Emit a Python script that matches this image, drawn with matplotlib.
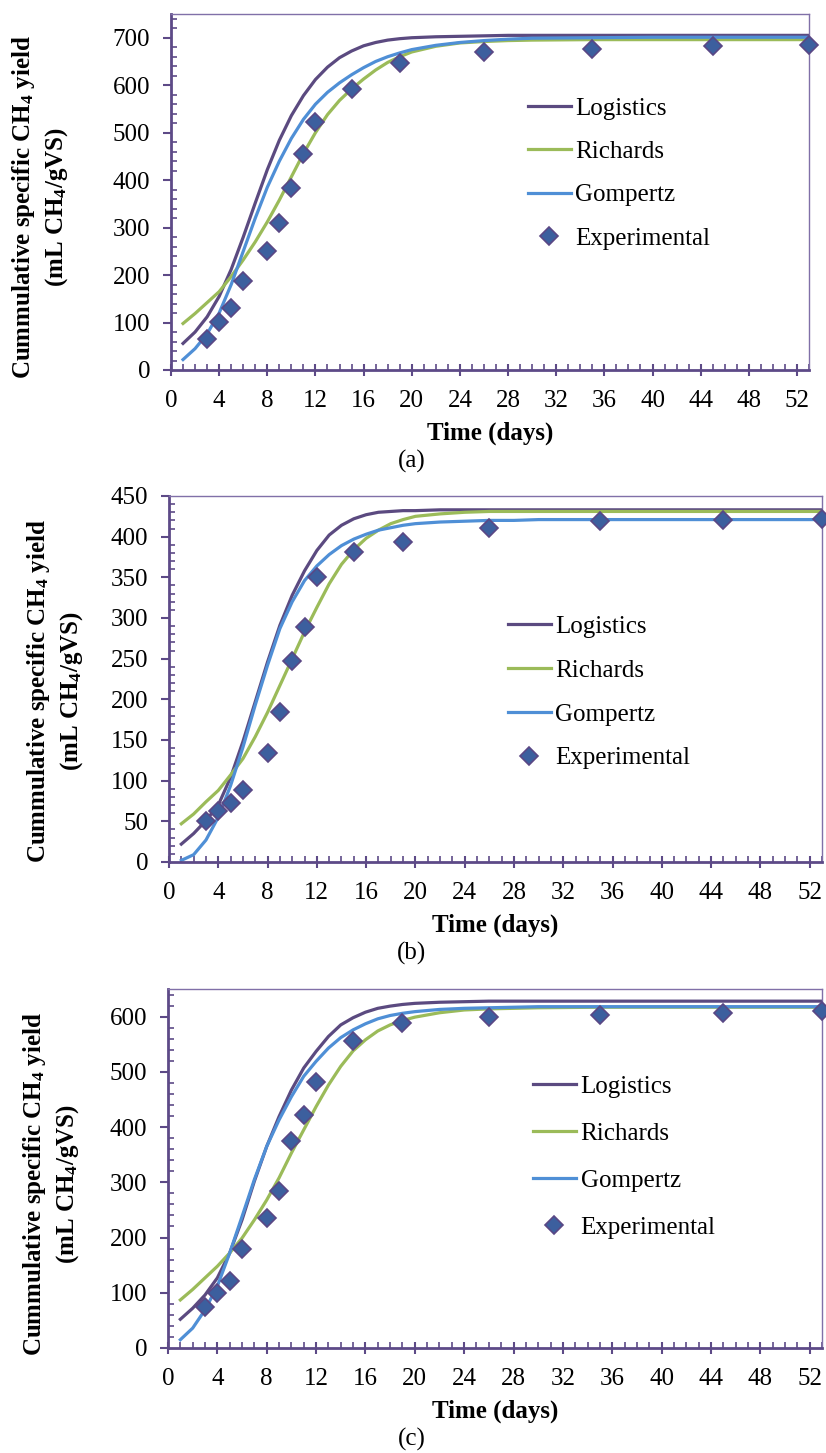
import matplotlib
matplotlib.use("Agg")
import matplotlib.pyplot as plt
from matplotlib.ticker import MultipleLocator

plt.rcParams['font.family'] = ['Liberation Serif', 'DejaVu Serif']
plt.rcParams['mathtext.fontset'] = 'custom'
plt.rcParams['mathtext.rm'] = 'Liberation Serif:bold'
plt.rcParams['mathtext.it'] = 'Liberation Serif:bold:italic'
plt.rcParams['mathtext.bf'] = 'Liberation Serif:bold'

# days at which the fitted curves are read
fit_days = [1, 2, 3, 4, 5, 6, 7, 8, 9, 10, 11, 12, 13, 14, 15, 16, 17, 18, 19, 20,
            22, 24, 26, 28, 30, 35, 40, 45, 53]
exp_days = [3, 4, 5, 6, 8, 9, 10, 11, 12, 15, 19, 26, 35, 45, 53]

# (a)
logis_a = [56, 80, 112, 155, 212, 280, 352, 422, 484, 536, 578, 612, 638, 658, 672, 683, 690, 695, 698, 700,
           702, 703, 704, 705, 705, 705, 705, 705, 705]
rich_a = [98, 119, 142, 165, 197, 232, 270, 312, 358, 407, 456, 500, 538, 568, 592, 613, 632, 648, 660, 670,
          682, 689, 692, 694, 695, 696, 696, 696, 696]
gomp_a = [22, 45, 76, 120, 180, 250, 320, 385, 440, 488, 528, 560, 585, 605, 622, 637, 650, 660, 668, 675,
          684, 690, 694, 697, 699, 700, 701, 701, 701]
exp_a = [65, 102, 131, 188, 251, 310, 383, 456, 523, 591, 646, 670, 677, 682, 684]

# (b)
logis_b = [22, 35, 51, 70, 104, 148, 197, 246, 291, 328, 358, 383, 402, 414, 422, 427, 430, 431, 432, 432,
           433, 433, 433, 433, 433, 433, 433, 433, 433]
rich_b = [47, 59, 74, 88, 107, 127, 154, 184, 217, 250, 283, 313, 342, 366, 384, 398, 408, 416, 421, 425,
          428, 430, 431, 431, 431, 431, 431, 431, 431]
gomp_b = [2, 9, 27, 55, 94, 141, 193, 242, 287, 320, 346, 364, 378, 389, 397, 403, 408, 411, 414, 416,
          418, 419, 420, 420, 421, 421, 421, 421, 421]
exp_b = [51, 63, 72, 89, 134, 184, 247, 289, 350, 381, 394, 411, 419, 421, 422]

# (c)
logis_c = [52, 72, 96, 127, 172, 232, 302, 365, 419, 467, 507, 537, 564, 585, 598, 608, 615, 619, 622, 624,
           626, 627, 628, 628, 628, 628, 628, 628, 628]
rich_c = [87, 106, 127, 148, 172, 199, 232, 268, 308, 353, 395, 437, 476, 510, 538, 558, 574, 585, 593, 599,
          607, 612, 614, 615, 616, 617, 617, 617, 617]
gomp_c = [15, 36, 69, 112, 172, 238, 305, 365, 413, 455, 492, 519, 543, 562, 576, 587, 596, 602, 606, 609,
          613, 615, 616, 617, 618, 618, 618, 618, 618]
exp_c = [74, 100, 121, 179, 235, 285, 374, 421, 481, 556, 588, 600, 603, 607, 610]

W, H = 826, 1453
purple = '#5b4a80'
green = '#9bbb59'
blue = '#4f8fd6'
axis_col = '#5d4a87'

fig = plt.figure(figsize=(W / 100, H / 100), dpi=100)

# pixel boxes: left, right, top, bottom ; ymax, ystep ; legend (x, y center, spacing) ; ylabel x, y
panels = [
    (171, 809, 14, 370, 750, 100, logis_a, rich_a, gomp_a, exp_a, (528, 173.5, 0.83), (40, 207), '(a)'),
    (169, 822, 496, 862, 450, 50, logis_b, rich_b, gomp_b, exp_b, (508, 692.5, 0.85), (55, 691), '(b)'),
    (168, 822, 989, 1348, 650, 100, logis_c, rich_c, gomp_c, exp_c, (533, 1157, 0.98), (51, 1184), '(c)'),
]

for (l, r, t, b, ymax, ystep, lg, ri, go, ex, leg, ylab, tag) in panels:
    ax = fig.add_axes([l / W, 1 - b / H, (r - l) / W, (b - t) / H])
    ax.plot(fit_days, lg, color=purple, lw=2.3, label='Logistics')
    ax.plot(fit_days, ri, color=green, lw=2.3, label='Richards')
    ax.plot(fit_days, go, color=blue, lw=2.3, label='Gompertz')
    ax.plot(exp_days, ex, ls='none', marker='D', ms=9, mfc='#3c5f9e', mec='#5a4785',
            mew=1.2, label='Experimental', clip_on=False, zorder=5)
    ax.set_xlim(0, 53)
    ax.set_ylim(0, ymax)
    ax.xaxis.set_major_locator(MultipleLocator(4))
    ax.xaxis.set_minor_locator(MultipleLocator(1))
    ax.yaxis.set_minor_locator(MultipleLocator(ystep / 5))
    ax.set_yticks([v for v in range(0, ymax + 1, ystep) if v < ymax or ystep == 50])
    for s in ['left', 'bottom']:
        ax.spines[s].set_color(axis_col)
        ax.spines[s].set_linewidth(2)
    for s in ['top', 'right']:
        ax.spines[s].set_color('#8070a8')
        ax.spines[s].set_linewidth(1)
    ax.tick_params(axis='x', which='major', direction='inout', length=9, width=1.5,
                   color=axis_col, labelsize=18, pad=10)
    ax.tick_params(axis='y', which='major', direction='out', length=6, width=1.5,
                   color=axis_col, labelsize=18, pad=9)
    ax.tick_params(which='minor', direction='in', length=4, width=1.2, color=axis_col)
    ax.set_xlabel('Time (days)', fontsize=18, fontweight='bold', labelpad=7)
    fig.legend(*ax.get_legend_handles_labels(), loc='center left',
               bbox_to_anchor=(leg[0] / W, 1 - leg[1] / H), bbox_transform=fig.transFigure,
               frameon=False, fontsize=18, handlelength=1.7, handletextpad=0.2,
               borderpad=0, borderaxespad=0, labelspacing=leg[2])
    fig.text(ylab[0] / W, 1 - ylab[1] / H,
             'Cummulative specific CH$_4$ yield\n(mL CH$_4$/gVS)',
             rotation=90, ha='center', va='center', fontsize=18, fontweight='bold',
             linespacing=1.3, multialignment='center')
    fig.text(412 / W, 1 - (b + 91) / H, tag, ha='center', va='center', fontsize=18)

fig.savefig('out.png', dpi=100)
